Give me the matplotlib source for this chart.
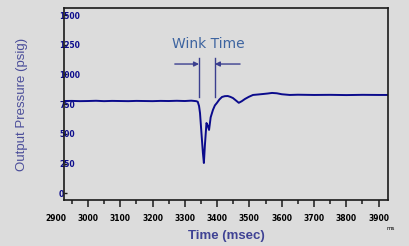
import matplotlib
matplotlib.use('Agg')
from matplotlib import pyplot as plt
from matplotlib.ticker import MultipleLocator

# data ===============================================
time_ms = [2926, 2950, 2975, 3000, 3025, 3050, 3075, 3100, 3125, 3150, 3175,
           3200, 3225, 3250, 3275, 3300, 3320, 3335, 3340, 3344, 3347, 3353,
           3356, 3359, 3362, 3367, 3371, 3375, 3380, 3387, 3393, 3399, 3407,
           3415, 3424, 3433, 3441, 3449, 3458, 3467, 3476, 3486, 3498, 3511,
           3527, 3542, 3556, 3570, 3585, 3600, 3625, 3650, 3700, 3750, 3800,
           3850, 3900, 3929]
pressure = [777, 778, 776, 777, 779, 776, 778, 777, 776, 778, 777,
            776, 778, 777, 779, 777, 780, 776, 771, 735, 676, 450,
            340, 256, 400, 592, 570, 534, 640, 702, 740, 760, 790,
            811, 818, 819, 812, 802, 782, 762, 775, 794, 812, 828,
            832, 836, 840, 845, 842, 834, 828, 830, 828, 829, 827,
            829, 828, 828]

x_ticks = [3000, 3100, 3200, 3300, 3400, 3500, 3600, 3700, 3800, 3900]
y_ticks = [0, 250, 500, 750, 1000, 1250, 1500]

wink_start = 3344
wink_end = 3393
#=====================================================

bg = '#dcdcdc'
navy = '#0b0b8c'
ann_col = '#3b3f8f'

fig = plt.figure(figsize=(4.09, 2.46), dpi=100, facecolor=bg)
ax = fig.add_axes([0.1565, 0.187, 0.7922, 0.7805], facecolor=bg)

ax.plot(time_ms, pressure, color=navy, lw=1.4)

ax.set_xlim(2926, 3929)
ax.set_ylim(-55, 1559)

for s in ax.spines.values():
    s.set_linewidth(1.2)
    s.set_color('#1a1a1a')

# x axis ticks, outward, minor every 50
ax.set_xticks(x_ticks)
ax.set_xticklabels([str(v) for v in x_ticks])
ax.xaxis.set_minor_locator(MultipleLocator(50))
ax.tick_params(axis='x', which='major', direction='out', length=5, width=1.1,
               pad=5, labelsize=5.5, color='#1a1a1a')
ax.tick_params(axis='x', which='minor', direction='out', length=3, width=1.1,
               color='#1a1a1a')
for lab in ax.get_xticklabels():
    lab.set_fontweight('bold')
# 2900 label sits left of the plot area
ax.text(2900, -0.073, '2900', transform=ax.get_xaxis_transform(),
        ha='center', va='top', fontsize=5.5, fontweight='bold', clip_on=False)

# y axis ticks, inward, labels straddling the spine
ax.set_yticks(y_ticks)
ax.set_yticklabels([str(v) for v in y_ticks])
ax.tick_params(axis='y', direction='in', length=2.5, width=1.0, pad=3.6,
               labelsize=5.5, labelcolor=navy, color='#1a1a1a')
for lab in ax.get_yticklabels():
    lab.set_horizontalalignment('left')
    lab.set_fontweight('bold')

ax.set_ylabel('Output Pressure (psig)', family='Liberation Sans', fontsize=9.5,
              color='#4b4e9a', labelpad=22)
ax.set_xlabel('Time (msec)', family='Liberation Sans', fontsize=9.5,
              color='#3f4294', fontweight='bold', labelpad=5)

# wink time annotation
ax.plot([wink_start, wink_start], [811, 1139], color=ann_col, lw=1.0)
ax.plot([wink_end, wink_end], [811, 1139], color=ann_col, lw=1.0)
ax.annotate('', xy=(wink_start, 1088), xytext=(3269, 1088),
            arrowprops=dict(arrowstyle='-|>', color=ann_col, lw=1.0,
                            mutation_scale=7, shrinkA=0, shrinkB=0))
ax.annotate('', xy=(wink_end, 1088), xytext=(3471, 1088),
            arrowprops=dict(arrowstyle='-|>', color=ann_col, lw=1.0,
                            mutation_scale=7, shrinkA=0, shrinkB=0))
ax.text(3372, 1256, 'Wink Time', ha='center', va='center', fontsize=10,
        color='#3d64a0')

fig.text(0.956, 0.073, 'ms', fontsize=4, ha='center', va='center')

fig.savefig('out.png', dpi=100, facecolor=bg)
